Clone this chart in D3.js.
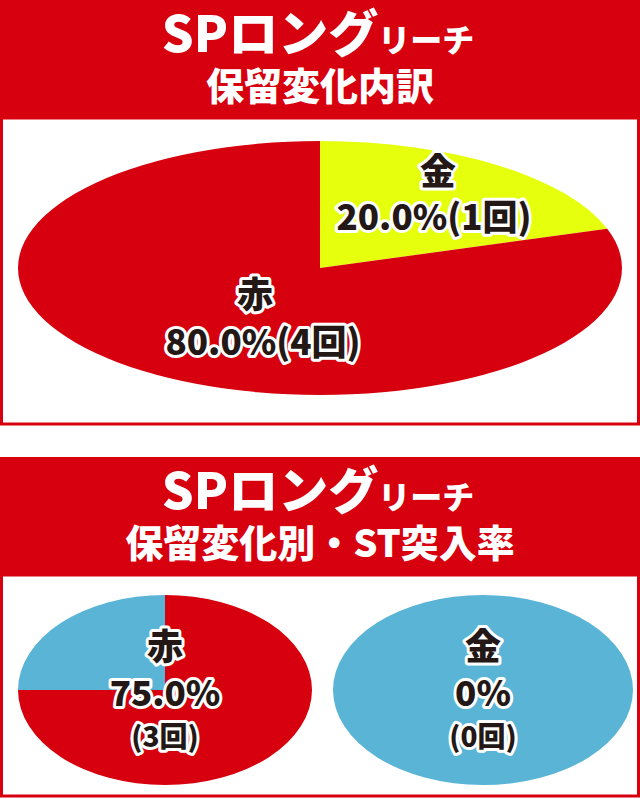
<!DOCTYPE html>
<html><head><meta charset="utf-8">
<script src="https://cdn.jsdelivr.net/npm/d3@7"></script>
<style>body{margin:0;background:#fff}text{font-family:"Noto Sans CJK JP",sans-serif;font-weight:900}</style>
</head><body><svg id="c" width="640" height="799"></svg>
<script>
const RED = "#d7000f", GOLD = "#e5ff0d", BLUE = "#5ab4d6"
const breakdownLabels = ["金", "赤"]
const breakdownPct = [20.0, 80.0]
const breakdownCount = [1, 4]
const stLabels = ["赤", "金"]
const stRate = [75.0, 0]
const stCount = [3, 0]

const svg = d3.select("#c")

function header(y, h, line2) {
	svg.append("rect").attr("x", 0).attr("y", y).attr("width", 640).attr("height", h).attr("fill", RED)
	const t = svg.append("text").attr("x", 318).attr("y", y + 52).attr("text-anchor", "middle").attr("fill", "#fff")
	t.append("tspan").attr("font-size", 50).text("SPロング")
	t.append("tspan").attr("font-size", 32).text("リーチ")
	svg.append("text").attr("x", 320).attr("y", y + 100).attr("text-anchor", "middle")
		.attr("fill", "#fff").attr("font-size", 38).text(line2)
}

function box(y, h) {
	svg.append("rect").attr("x", 1.5).attr("y", y).attr("width", 637).attr("height", h)
		.attr("fill", "#fff").attr("stroke", RED).attr("stroke-width", 3)
}

function label(x, y, s, size) {
	svg.append("text").attr("x", x).attr("y", y).attr("text-anchor", "middle")
		.attr("font-size", size).attr("fill", "#231815").attr("stroke", "#fff")
		.attr("stroke-width", 6).attr("stroke-linejoin", "round").attr("paint-order", "stroke").text(s)
}

function ellipsePie(cx, cy, rx, ry, values, colors) {
	const g = svg.append("g").attr("transform", `translate(${cx},${cy}) scale(1,${ry / rx})`)
	const arcs = d3.pie().sort(null)(values)
	const arc = d3.arc().innerRadius(0).outerRadius(rx)
	g.selectAll("path").data(arcs).join("path").attr("d", arc).attr("fill", (d, i) => colors[i])
}

// section 1
header(0, 118, "保留変化内訳")
box(118, 306)
ellipsePie(320, 268, 302, 127, breakdownPct, [GOLD, RED])
label(438, 185, breakdownLabels[0], 36)
label(434, 230, breakdownPct[0].toFixed(1) + "%(" + breakdownCount[0] + "回)", 35)
label(255, 308, breakdownLabels[1], 36)
label(263, 355, breakdownPct[1].toFixed(1) + "%(" + breakdownCount[1] + "回)", 35)

// section 2
header(457, 118, "保留変化別・ST突入率")
box(575, 221)
ellipsePie(165, 690, 147, 95, [stRate[0], 100 - stRate[0]], [RED, BLUE])
ellipsePie(483, 690, 150, 95, [stRate[1], 100 - stRate[1]], [RED, BLUE])
const cols = [165, 483]
stLabels.forEach((l, i) => {
	label(cols[i], 660, l, 36)
	label(cols[i], 706, (stRate[i] ? stRate[i].toFixed(1) : stRate[i]) + "%", 35)
	label(cols[i], 747, "(" + stCount[i] + "回)", 28)
})
</script></body></html>
